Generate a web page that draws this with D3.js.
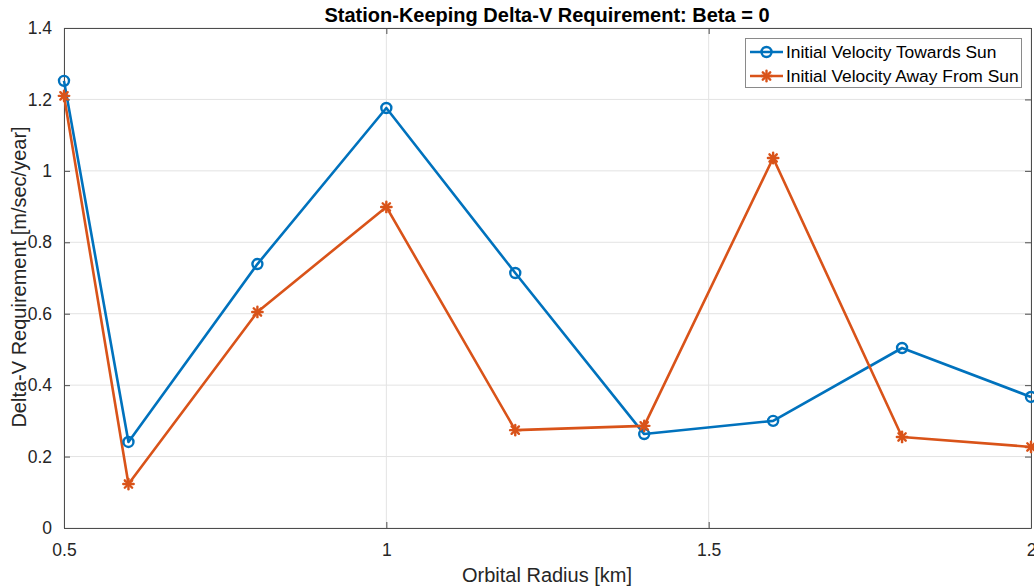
<!DOCTYPE html>
<html>
<head>
<meta charset="utf-8">
<script src="https://cdn.jsdelivr.net/npm/d3@7"></script>
<style>
  html, body { margin: 0; padding: 0; background: #fff; }
  svg { display: block; font-family: "Liberation Sans", Arial, Helvetica, sans-serif; }
</style>
</head>
<body>
<svg id="chart" width="1034" height="588"></svg>
<script>
// Orbital radius samples [km]
const radius = [0.5, 0.6, 0.8, 1.0, 1.2, 1.4, 1.6, 1.8, 2.0];
// Delta-V requirement [m/sec/year]
const towardsSun = [1.252, 0.241, 0.739, 1.176, 0.714, 0.263, 0.300, 0.504, 0.367];
const awayFromSun = [1.210, 0.123, 0.605, 0.899, 0.274, 0.286, 1.036, 0.255, 0.227];
const xTicks = [0.5, 1, 1.5, 2];
const yTicks = [0, 0.2, 0.4, 0.6, 0.8, 1, 1.2, 1.4];
const seriesNames = ["Initial Velocity Towards Sun", "Initial Velocity Away From Sun"];

const svg = d3.select("#chart");
const m = { left: 64, right: 1031, top: 28, bottom: 528 };
const x = d3.scaleLinear().domain([0.5, 2]).range([m.left, m.right]);
const y = d3.scaleLinear().domain([0, 1.4]).range([m.bottom, m.top]);

const axisColor = "#4d4d4d";
const textColor = "#262626";
const blue = "#0072BD", orange = "#D95319";

// grid
const grid = svg.append("g");
grid.selectAll(".gx").data(xTicks).join("line")
  .attr("x1", d => x(d)).attr("x2", d => x(d))
  .attr("y1", m.top).attr("y2", m.bottom)
  .attr("stroke", "#e3e3e3").attr("stroke-width", 1);
grid.selectAll(".gy").data(yTicks).join("line")
  .attr("x1", m.left).attr("x2", m.right)
  .attr("y1", d => y(d)).attr("y2", d => y(d))
  .attr("stroke", "#e3e3e3").attr("stroke-width", 1);

// axes (ticks pointing inward)
const fmt = d => String(d);
const xAxis = svg.append("g").attr("transform", `translate(0,${m.bottom})`)
  .call(d3.axisBottom(x).tickValues(xTicks).tickFormat(fmt).tickSizeInner(-6).tickSizeOuter(0).tickPadding(16));
const xAxisTop = svg.append("g").attr("transform", `translate(0,${m.top})`)
  .call(d3.axisTop(x).tickValues(xTicks).tickFormat("").tickSizeInner(-6).tickSizeOuter(0));
const yAxis = svg.append("g").attr("transform", `translate(${m.left},0)`)
  .call(d3.axisLeft(y).tickValues(yTicks).tickFormat(fmt).tickSizeInner(-6).tickSizeOuter(0).tickPadding(12));
const yAxisRight = svg.append("g").attr("transform", `translate(${m.right},0)`)
  .call(d3.axisRight(y).tickValues(yTicks).tickFormat("").tickSizeInner(-6).tickSizeOuter(0));

[xAxis, xAxisTop, yAxis, yAxisRight].forEach(g => {
  g.select(".domain").attr("stroke", axisColor).attr("stroke-width", 1);
  g.selectAll(".tick line").attr("stroke", axisColor);
  g.selectAll(".tick text").attr("fill", textColor).attr("font-size", 17.5)
    .attr("font-family", "'Liberation Sans', Arial, sans-serif");
});

// series lines
const line = d3.line().x((d, i) => x(radius[i])).y(d => y(d));
svg.append("path").datum(towardsSun).attr("d", line)
  .attr("fill", "none").attr("stroke", blue).attr("stroke-width", 2.6).attr("stroke-linejoin", "round");
svg.append("path").datum(awayFromSun).attr("d", line)
  .attr("fill", "none").attr("stroke", orange).attr("stroke-width", 2.6).attr("stroke-linejoin", "round");

// markers
function circleMarker(g, cx, cy) {
  g.append("circle").attr("cx", cx).attr("cy", cy).attr("r", 5)
    .attr("fill", "none").attr("stroke", blue).attr("stroke-width", 2.4);
}
function starMarker(g, cx, cy) {
  const r = 5.2;
  const s = g.append("g").attr("transform", `translate(${cx},${cy})`)
    .attr("stroke", orange).attr("stroke-width", 2.4).attr("stroke-linecap", "round");
  [0, 45, 90, 135].forEach(a => {
    const rad = a * Math.PI / 180;
    s.append("line").attr("x1", -r * Math.cos(rad)).attr("y1", -r * Math.sin(rad))
      .attr("x2", r * Math.cos(rad)).attr("y2", r * Math.sin(rad));
  });
}
const mk = svg.append("g");
towardsSun.forEach((v, i) => circleMarker(mk, x(radius[i]), y(v)));
awayFromSun.forEach((v, i) => starMarker(mk, x(radius[i]), y(v)));

// title and axis labels
svg.append("text").attr("x", 547).attr("y", 22)
  .attr("text-anchor", "middle").attr("font-weight", "bold").attr("font-size", 20)
  .attr("fill", "#000").text("Station-Keeping Delta-V Requirement: Beta = 0");
svg.append("text").attr("x", 547).attr("y", 582)
  .attr("text-anchor", "middle").attr("font-size", 20)
  .attr("fill", textColor).text("Orbital Radius [km]");
svg.append("text").attr("transform", `translate(26,277) rotate(-90)`)
  .attr("text-anchor", "middle").attr("font-size", 20)
  .attr("fill", textColor).text("Delta-V Requirement [m/sec/year]");

// legend
const lg = svg.append("g");
lg.append("rect").attr("x", 745.5).attr("y", 38.5).attr("width", 276).attr("height", 49)
  .attr("fill", "#fff").attr("stroke", "#8a8a8a").attr("stroke-width", 1);
[[blue, 52], [orange, 76]].forEach(([c, ly], i) => {
  lg.append("line").attr("x1", 750).attr("x2", 783).attr("y1", ly).attr("y2", ly)
    .attr("stroke", c).attr("stroke-width", 2.6);
  if (i === 0) circleMarker(lg, 766.5, ly); else starMarker(lg, 766.5, ly);
  lg.append("text").attr("x", 786).attr("y", ly + 6).attr("font-size", 17.4)
    .attr("fill", "#000").text(seriesNames[i]);
});
</script>
</body>
</html>
